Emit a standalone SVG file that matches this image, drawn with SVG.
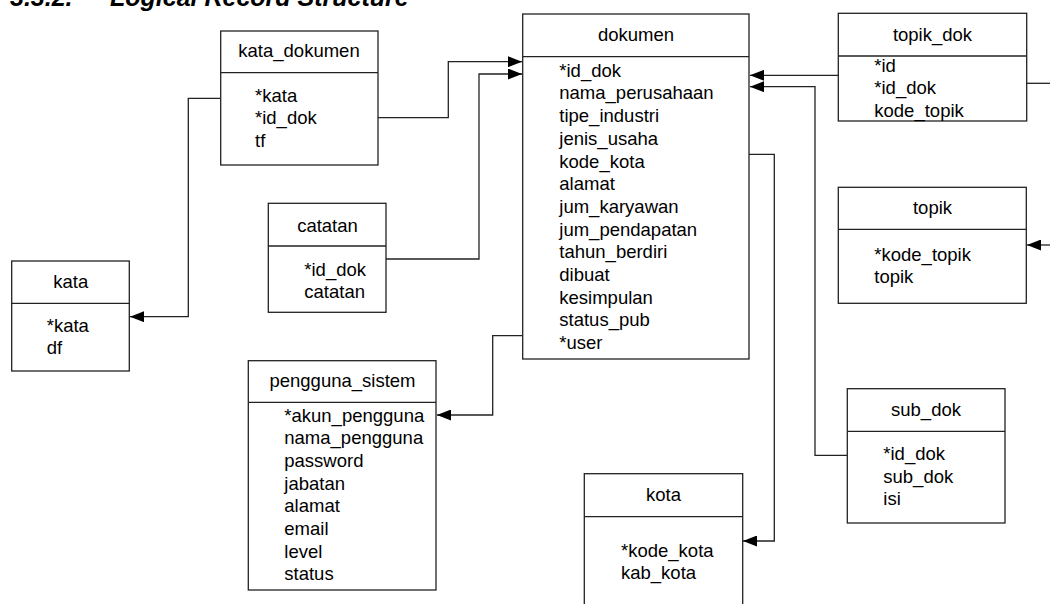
<svg xmlns="http://www.w3.org/2000/svg" width="1050" height="604" viewBox="0 0 1050 604">
<defs>
<marker id="arr" markerUnits="userSpaceOnUse" markerWidth="14" markerHeight="11" refX="14" refY="5.5" orient="auto">
<path d="M0,0 L14,5.5 L0,11 z" fill="#000"/>
</marker>
<style>
.box{fill:#fff;stroke:#222;stroke-width:1.3}
.div{stroke:#222;stroke-width:1.3}
.t{font-family:"Liberation Sans",Arial,sans-serif;font-size:18.5px;fill:#000}
.c{text-anchor:middle}
.ttl{font-family:"Liberation Sans",Arial,sans-serif;font-size:25px;font-weight:bold;font-style:italic;fill:#000}
.ln{fill:none;stroke:#222;stroke-width:1.3}
</style>
</defs>
<rect width="1050" height="604" fill="#fff"/>
<text class="ttl" x="10" y="6">3.3.2.</text>
<text class="ttl" x="110" y="6">Logical Record Structure</text>

<g id="connectors">
<path class="ln" d="M378,117.7 H448.3 V61.7 H522" marker-end="url(#arr)"/>
<path class="ln" d="M386,259 H479 V74 H522" marker-end="url(#arr)"/>
<path class="ln" d="M220.7,98.3 H188.3 V316.7 H130" marker-end="url(#arr)"/>
<path class="ln" d="M523,335.7 H492.7 V415 H437" marker-end="url(#arr)"/>
<path class="ln" d="M749,154.3 H774.3 V541 H743" marker-end="url(#arr)"/>
<path class="ln" d="M838.3,75.3 H750" marker-end="url(#arr)"/>
<path class="ln" d="M847.3,455.3 H815 V86.7 H750" marker-end="url(#arr)"/>
<path class="ln" d="M1026.7,83.3 H1050"/>
<path class="ln" d="M1050,245 H1027" marker-end="url(#arr)"/>
</g>

<g id="kata_dokumen">
<rect class="box" x="220.7" y="31" width="157.3" height="134"/>
<line class="div" x1="220.7" y1="72.7" x2="378" y2="72.7"/>
<text class="t c" x="299" y="57">kata_dokumen</text>
<text class="t" x="255" y="101.7">*kata</text>
<text class="t" x="255" y="124.4">*id_dok</text>
<text class="t" x="255" y="147.1">tf</text>
</g>

<g id="dokumen">
<rect class="box" x="522.7" y="14" width="226.3" height="345"/>
<line class="div" x1="522.7" y1="56.7" x2="749" y2="56.7"/>
<text class="t c" x="636" y="40.7">dokumen</text>
<text class="t" x="559.3" y="76.7">*id_dok</text>
<text class="t" x="559.3" y="99.4">nama_perusahaan</text>
<text class="t" x="559.3" y="122.1">tipe_industri</text>
<text class="t" x="559.3" y="144.8">jenis_usaha</text>
<text class="t" x="559.3" y="167.5">kode_kota</text>
<text class="t" x="559.3" y="190.2">alamat</text>
<text class="t" x="559.3" y="212.9">jum_karyawan</text>
<text class="t" x="559.3" y="235.6">jum_pendapatan</text>
<text class="t" x="559.3" y="258.3">tahun_berdiri</text>
<text class="t" x="559.3" y="281">dibuat</text>
<text class="t" x="559.3" y="303.7">kesimpulan</text>
<text class="t" x="559.3" y="326.4">status_pub</text>
<text class="t" x="559.3" y="349.1">*user</text>
</g>

<g id="topik_dok">
<rect class="box" x="838.3" y="13.3" width="188.4" height="107.7"/>
<line class="div" x1="838.3" y1="56" x2="1026.7" y2="56"/>
<text class="t c" x="932.5" y="40.7">topik_dok</text>
<text class="t" x="874.3" y="71.7">*id</text>
<text class="t" x="874.3" y="94.4">*id_dok</text>
<text class="t" x="874.3" y="117">kode_topik</text>
</g>

<g id="catatan">
<rect class="box" x="268.3" y="203.3" width="117.7" height="109"/>
<line class="div" x1="268.3" y1="246" x2="386" y2="246"/>
<text class="t c" x="327.5" y="231.7">catatan</text>
<text class="t" x="304.3" y="275.5">*id_dok</text>
<text class="t" x="304.3" y="298.2">catatan</text>
</g>

<g id="topik">
<rect class="box" x="838.3" y="187.3" width="188" height="116"/>
<line class="div" x1="838.3" y1="229.3" x2="1026.3" y2="229.3"/>
<text class="t c" x="932.5" y="214">topik</text>
<text class="t" x="874.3" y="260.7">*kode_topik</text>
<text class="t" x="874.3" y="283.4">topik</text>
</g>

<g id="kata">
<rect class="box" x="11.7" y="261" width="117.6" height="110"/>
<line class="div" x1="11.7" y1="303.3" x2="129.3" y2="303.3"/>
<text class="t c" x="70.7" y="287.7">kata</text>
<text class="t" x="46.7" y="331.7">*kata</text>
<text class="t" x="46.7" y="354.4">df</text>
</g>

<g id="pengguna_sistem">
<rect class="box" x="248.3" y="360.7" width="187.7" height="229.3"/>
<line class="div" x1="248.3" y1="402.3" x2="436" y2="402.3"/>
<text class="t c" x="342.5" y="387.3">pengguna_sistem</text>
<text class="t" x="284.3" y="421.5">*akun_pengguna</text>
<text class="t" x="284.3" y="444.2">nama_pengguna</text>
<text class="t" x="284.3" y="466.9">password</text>
<text class="t" x="284.3" y="489.6">jabatan</text>
<text class="t" x="284.3" y="512.3">alamat</text>
<text class="t" x="284.3" y="535">email</text>
<text class="t" x="284.3" y="557.7">level</text>
<text class="t" x="284.3" y="580.4">status</text>
</g>

<g id="sub_dok">
<rect class="box" x="847.3" y="388.7" width="157.7" height="134.3"/>
<line class="div" x1="847.3" y1="431.3" x2="1005" y2="431.3"/>
<text class="t c" x="926" y="416">sub_dok</text>
<text class="t" x="883.3" y="460">*id_dok</text>
<text class="t" x="883.3" y="482.7">sub_dok</text>
<text class="t" x="883.3" y="505.4">isi</text>
</g>

<g id="kota">
<rect class="box" x="584.3" y="473.7" width="158.4" height="140"/>
<line class="div" x1="584.3" y1="516.7" x2="742.7" y2="516.7"/>
<text class="t c" x="663.5" y="501">kota</text>
<text class="t" x="621" y="556.7">*kode_kota</text>
<text class="t" x="621" y="579.4">kab_kota</text>
</g>
</svg>
